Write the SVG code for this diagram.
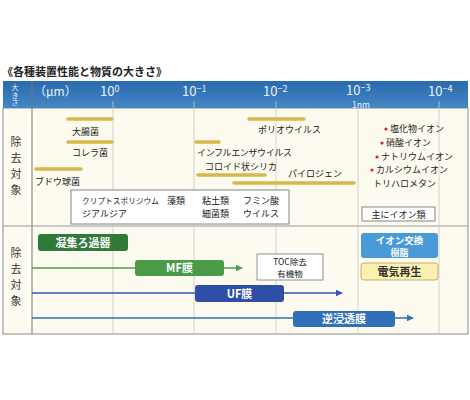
<svg xmlns="http://www.w3.org/2000/svg" width="470" height="400" viewBox="0 0 470 400">
<defs>
<style>
text{font-family:"Noto Sans CJK JP","Noto Sans",sans-serif;}
.t{font-size:9px;fill:#222;}
.h{font-size:13px;fill:#e8f0fa;}
.sup{font-size:9px;}
.bar{stroke:#d8b84a;stroke-width:3.5;stroke-linecap:round;}
.grid{stroke:#c8c8c0;stroke-width:0.8;}
.dot{fill:#e02020;}
.lbl{font-size:11px;fill:#fff;font-weight:bold;text-anchor:middle;}
.side{font-size:11px;fill:#333;writing-mode:vertical-rl;letter-spacing:5px;}
.hs{font-size:7px;fill:#e8f0fa;writing-mode:vertical-rl;letter-spacing:0.5px;}
</style>
<linearGradient id="hg" x1="0" y1="0" x2="0" y2="1">
<stop offset="0" stop-color="#2a6aae"/>
<stop offset="1" stop-color="#4586c4"/>
</linearGradient>
<marker id="ag" viewBox="0 0 10 10" refX="9" refY="5" markerWidth="4.5" markerHeight="4.5" orient="auto"><path d="M0,0L10,5L0,10z" fill="#4aa04a"/></marker>
<marker id="ab" viewBox="0 0 10 10" refX="9" refY="5" markerWidth="4.5" markerHeight="4.5" orient="auto"><path d="M0,0L10,5L0,10z" fill="#3058b0"/></marker>
<marker id="ar" viewBox="0 0 10 10" refX="9" refY="5" markerWidth="4.5" markerHeight="4.5" orient="auto"><path d="M0,0L10,5L0,10z" fill="#2f70b8"/></marker>
</defs>
<rect width="470" height="400" fill="#ffffff"/>
<text x="2" y="76" style="font-size:11px;font-weight:bold;fill:#222;">《各種装置性能と物質の大きさ》</text>

<g id="frame">
<rect x="3" y="108" width="465" height="226" fill="#fdfbf0" stroke="#8a8a8a" stroke-width="1"/>
<rect x="3" y="81" width="465" height="27" fill="url(#hg)"/>
<line x1="32" y1="81" x2="32" y2="334" stroke="#777" stroke-width="1"/>
<line x1="3" y1="226" x2="468" y2="226" stroke="#999" stroke-width="1"/>
<g class="grid">
<line x1="113" y1="101" x2="113" y2="334"/>
<line x1="194" y1="101" x2="194" y2="334"/>
<line x1="276" y1="101" x2="276" y2="334"/>
<line x1="358" y1="108" x2="358" y2="334"/>
<line x1="439" y1="101" x2="439" y2="334"/>
</g>
</g>

<g id="header">
<text x="15" y="84" class="hs">大きさ</text>
<text x="34" y="96" class="h" style="font-size:12px;">（μm）</text>
<text x="100" y="96" class="h">10<tspan class="sup" dy="-4">0</tspan></text>
<text x="182" y="96" class="h">10<tspan class="sup" dy="-4">−1</tspan></text>
<text x="263" y="96" class="h">10<tspan class="sup" dy="-4">−2</tspan></text>
<text x="346" y="94.5" class="h">10<tspan class="sup" dy="-4">−3</tspan></text>
<text x="352" y="107.5" style="font-size:8.5px;fill:#e8f0fa;">1nm</text>
<text x="428" y="96" class="h">10<tspan class="sup" dy="-4">−4</tspan></text>
</g>

<g id="side-labels">
<text x="16" y="136" class="side">除去対象</text>
<text x="16" y="247" class="side">除去対象</text>
</g>

<g id="substances">
<line class="bar" x1="68" y1="119" x2="112" y2="119"/>
<text x="72" y="135" class="t">大腸菌</text>
<line class="bar" x1="68" y1="142" x2="112" y2="142"/>
<text x="72" y="156" class="t">コレラ菌</text>
<line class="bar" x1="36" y1="169" x2="81" y2="169"/>
<text x="35" y="185" class="t">ブドウ球菌</text>
<line class="bar" x1="196" y1="142" x2="219" y2="142"/>
<text x="197" y="156" class="t" textLength="95">インフルエンザウイルス</text>
<line class="bar" x1="249" y1="119" x2="304" y2="119"/>
<text x="258" y="133" class="t">ポリオウイルス</text>
<text x="205" y="170" class="t">コロイド状シリカ</text>
<line class="bar" x1="198" y1="175" x2="265" y2="175"/>
<text x="288" y="177" class="t">パイロジェン</text>
<line class="bar" x1="234" y1="183" x2="354" y2="183"/>
</g>

<g id="micro-box">
<rect x="71" y="190" width="218" height="34" fill="#fff" stroke="#666" stroke-width="0.8"/>
<text x="82" y="204" class="t" style="font-size:7.7px;">クリプトスポリジウム</text>
<text x="167" y="204" class="t">藻類</text>
<text x="202" y="204" class="t">粘土類</text>
<text x="243" y="204" class="t">フミン酸</text>
<text x="82" y="217" class="t">ジアルジア</text>
<text x="202" y="217" class="t">細菌類</text>
<text x="243" y="217" class="t">ウイルス</text>
</g>

<g id="ions">
<circle class="dot" cx="386" cy="129" r="1.6"/>
<text x="390" y="132" class="t">塩化物イオン</text>
<circle class="dot" cx="382" cy="143" r="1.6"/>
<text x="386" y="146" class="t">硝酸イオン</text>
<circle class="dot" cx="377" cy="157" r="1.6"/>
<text x="381" y="160" class="t">ナトリウムイオン</text>
<circle class="dot" cx="372" cy="170" r="1.6"/>
<text x="376" y="173" class="t">カルシウムイオン</text>
<text x="373" y="187" class="t">トリハロメタン</text>
</g>

<g id="ion-box">
<rect x="362" y="207" width="73" height="14" fill="#fff" stroke="#666" stroke-width="0.8"/>
<text x="398.5" y="217.5" class="t" style="text-anchor:middle;">主にイオン類</text>
</g>

<g id="connectors">
<line x1="32" y1="268" x2="242" y2="268" stroke="#4aa04a" stroke-width="1.5" marker-end="url(#ag)"/>
<line x1="32" y1="293" x2="342" y2="293" stroke="#3058b0" stroke-width="1.5" marker-end="url(#ab)"/>
<line x1="32" y1="318" x2="413" y2="318" stroke="#2f70b8" stroke-width="1.5" marker-end="url(#ar)"/>
</g>

<g id="coag">
<rect x="38" y="234" width="90" height="17" rx="3" fill="#2f7a3a"/>
<text x="83" y="246.5" class="lbl">凝集ろ過器</text>
</g>
<g id="mf">
<rect x="135" y="260" width="89" height="16" rx="3" fill="#4a9a4a"/>
<text x="179.5" y="272" class="lbl">MF膜</text>
</g>
<g id="toc">
<rect x="257" y="254" width="66" height="26" fill="#fff" stroke="#777" stroke-width="0.8"/>
<text x="290" y="264.5" class="t" style="text-anchor:middle;font-size:8.5px;">TOC除去</text>
<text x="290" y="276.5" class="t" style="text-anchor:middle;font-size:8.5px;">有機物</text>
</g>
<g id="uf">
<rect x="195" y="285" width="89" height="17" rx="3" fill="#2f4ea8"/>
<text x="239.5" y="297.5" class="lbl">UF膜</text>
</g>
<g id="ro">
<rect x="293" y="311" width="102" height="16" rx="3" fill="#2f70b8"/>
<text x="344" y="323" class="lbl">逆浸透膜</text>
</g>
<g id="ion-exchange">
<rect x="361" y="233" width="77" height="25" rx="3" fill="#4a9ad8"/>
<text x="399.5" y="244" class="lbl" style="font-size:9.5px;">イオン交換</text>
<text x="399.5" y="255.5" class="lbl" style="font-size:9px;">樹脂</text>
</g>
<g id="edi">
<rect x="361" y="263" width="77" height="17" rx="3" fill="#fbf2b0" stroke="#b0a060" stroke-width="0.8"/>
<text x="399.5" y="275.5" class="lbl" style="fill:#333;">電気再生</text>
</g>
</svg>
